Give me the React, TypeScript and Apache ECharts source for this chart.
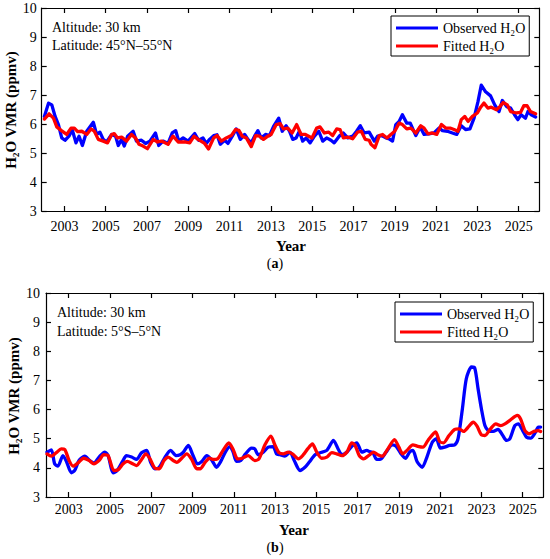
import React, { useEffect, useRef } from "react";
import * as echarts from "echarts";

const FONT = '"Liberation Serif", "Times New Roman", serif';

const yearTicks = [2003, 2005, 2007, 2009, 2011, 2013, 2015, 2017, 2019, 2021, 2023, 2025];

// Panel (a): 45°N–55°N
const aObsYears = [
  2002.03, 2002.23, 2002.39, 2002.55, 2002.71, 2002.87, 2003.03, 2003.22, 2003.38, 2003.56, 2003.71, 2003.87,
  2004.08, 2004.4, 2004.56, 2004.72, 2004.88, 2005.04, 2005.29, 2005.48, 2005.61, 2005.77, 2005.9, 2006.06,
  2006.33, 2006.49, 2006.73, 2006.93, 2007.14, 2007.41, 2007.57, 2007.78, 2008.02, 2008.22, 2008.39, 2008.54,
  2008.75, 2008.99, 2009.31, 2009.5, 2009.71, 2009.87, 2010.03, 2010.23, 2010.39, 2010.55, 2010.76, 2010.92,
  2011.13, 2011.32, 2011.52, 2011.73, 2011.89, 2012.05, 2012.21, 2012.37, 2012.53, 2012.74, 2012.93, 2013.13,
  2013.38, 2013.55, 2013.74, 2013.9, 2014.06, 2014.22, 2014.38, 2014.54, 2014.71, 2014.9, 2015.11, 2015.32,
  2015.51, 2015.7, 2015.91, 2016.07, 2016.31, 2016.51, 2016.72, 2016.96, 2017.15, 2017.33, 2017.52, 2017.76,
  2018.01, 2018.17, 2018.36, 2018.57, 2018.73, 2018.89, 2019.05, 2019.21, 2019.37, 2019.58, 2019.75, 2020.02,
  2020.23, 2020.42, 2020.66, 2020.9, 2021.15, 2021.31, 2021.55, 2021.79, 2022.0, 2022.22, 2022.43, 2022.64,
  2022.84, 2023.03, 2023.19, 2023.4, 2023.64, 2023.84, 2024.05, 2024.21, 2024.42, 2024.61, 2024.8, 2024.96,
  2025.12, 2025.33, 2025.45, 2025.61, 2025.82,
];
const aObsValues = [
  6.26, 6.72, 6.66, 6.26, 5.98, 5.52, 5.44, 5.58, 5.8, 5.35, 5.58, 5.26,
  5.75, 6.06, 5.64, 5.72, 5.47, 5.38, 5.64, 5.58, 5.26, 5.47, 5.24, 5.58,
  5.75, 5.41, 5.44, 5.33, 5.41, 5.69, 5.26, 5.41, 5.33, 5.69, 5.77, 5.41,
  5.52, 5.41, 5.67, 5.44, 5.52, 5.33, 5.47, 5.6, 5.63, 5.3, 5.44, 5.33,
  5.58, 5.83, 5.47, 5.64, 5.47, 5.35, 5.58, 5.77, 5.52, 5.64, 5.6, 5.92,
  6.2, 5.75, 5.94, 5.75, 5.47, 5.52, 5.75, 5.41, 5.52, 5.35, 5.58, 5.75,
  5.41, 5.52, 5.44, 5.35, 5.58, 5.69, 5.52, 5.58, 5.75, 5.94, 5.69, 5.72,
  5.41, 5.58, 5.6, 5.52, 5.49, 5.41, 5.98, 6.09, 6.32, 6.03, 6.03, 5.6,
  5.9, 5.64, 5.66, 5.69, 5.86, 5.77, 5.75, 5.69, 5.64, 5.94, 5.81, 5.83,
  6.2, 6.77, 7.34, 7.11, 6.97, 6.66, 6.43, 6.81, 6.6, 6.55, 6.32, 6.15,
  6.32, 6.2, 6.43, 6.32, 6.24,
];
const aFitYears = [
  2002.03, 2002.26, 2002.47, 2002.63, 2002.84, 2003.11, 2003.32, 2003.48, 2003.64, 2003.84, 2004.08, 2004.29,
  2004.45, 2004.64, 2004.88, 2005.09, 2005.29, 2005.41, 2005.57, 2005.77, 2006.01, 2006.25, 2006.44, 2006.61,
  2006.81, 2007.02, 2007.3, 2007.51, 2007.7, 2008.02, 2008.26, 2008.51, 2008.83, 2009.07, 2009.28, 2009.47,
  2009.79, 2009.98, 2010.23, 2010.39, 2010.6, 2010.84, 2011.08, 2011.29, 2011.45, 2011.61, 2011.81, 2012.05,
  2012.26, 2012.45, 2012.64, 2012.85, 2013.01, 2013.26, 2013.45, 2013.61, 2013.82, 2014.03, 2014.25, 2014.46,
  2014.67, 2014.99, 2015.22, 2015.38, 2015.59, 2015.8, 2015.99, 2016.19, 2016.35, 2016.51, 2016.72, 2016.96,
  2017.2, 2017.38, 2017.57, 2017.76, 2017.85, 2018.04, 2018.25, 2018.41, 2018.62, 2018.81, 2019.0, 2019.21,
  2019.37, 2019.58, 2019.78, 2020.02, 2020.26, 2020.42, 2020.61, 2020.82, 2021.03, 2021.26, 2021.47, 2021.68,
  2021.87, 2022.06, 2022.22, 2022.39, 2022.55, 2022.76, 2023.0, 2023.16, 2023.32, 2023.51, 2023.67, 2023.93,
  2024.09, 2024.25, 2024.45, 2024.61, 2024.9, 2025.09, 2025.25, 2025.41, 2025.57, 2025.82,
];
const aFitValues = [
  6.17, 6.35, 6.2, 5.9, 5.78, 5.64, 5.86, 5.86, 5.74, 5.75, 5.64, 5.83,
  5.75, 5.47, 5.41, 5.35, 5.64, 5.67, 5.52, 5.55, 5.41, 5.64, 5.52, 5.3,
  5.24, 5.15, 5.47, 5.38, 5.41, 5.3, 5.58, 5.38, 5.38, 5.35, 5.58, 5.47,
  5.33, 5.14, 5.52, 5.6, 5.41, 5.52, 5.6, 5.81, 5.78, 5.58, 5.52, 5.22,
  5.6, 5.58, 5.47, 5.58, 5.64, 5.98, 6.01, 5.83, 5.86, 5.69, 5.98, 5.64,
  5.64, 5.52, 5.86, 5.9, 5.69, 5.72, 5.6, 5.83, 5.81, 5.52, 5.55, 5.49,
  5.72, 5.75, 5.47, 5.44, 5.3, 5.18, 5.6, 5.64, 5.52, 5.64, 5.75, 6.03,
  5.98, 5.83, 5.86, 5.69, 5.94, 5.86, 5.66, 5.69, 5.64, 5.98, 5.86, 5.86,
  5.81, 5.75, 6.15, 6.26, 6.09, 6.26, 6.38, 6.58, 6.72, 6.55, 6.58, 6.49,
  6.6, 6.74, 6.66, 6.43, 6.38, 6.4, 6.63, 6.63, 6.43, 6.35,
];

// Panel (b): 5°S–5°N
const bObsYears = [
  2001.95, 2002.16, 2002.32, 2002.48, 2002.72, 2002.89, 2003.13, 2003.29, 2003.5, 2003.78, 2004.02, 2004.22,
  2004.47, 2004.75, 2004.91, 2005.16, 2005.35, 2005.61, 2005.8, 2006.05, 2006.29, 2006.53, 2006.78, 2006.97,
  2007.18, 2007.39, 2007.67, 2007.94, 2008.2, 2008.4, 2008.56, 2008.8, 2009.01, 2009.24, 2009.45, 2009.69,
  2009.95, 2010.16, 2010.37, 2010.59, 2010.81, 2010.97, 2011.13, 2011.34, 2011.57, 2011.86, 2012.02, 2012.18,
  2012.43, 2012.67, 2012.91, 2013.07, 2013.24, 2013.48, 2013.72, 2013.93, 2014.21, 2014.45, 2014.65, 2014.94,
  2015.18, 2015.51, 2015.83, 2016.07, 2016.24, 2016.48, 2016.72, 2016.96, 2017.21, 2017.45, 2017.57, 2017.74,
  2017.93, 2018.14, 2018.38, 2018.68, 2018.87, 2019.11, 2019.32, 2019.52, 2019.68, 2019.88, 2020.13, 2020.36,
  2020.62, 2020.82, 2021.01, 2021.22, 2021.46, 2021.71, 2021.87, 2022.08, 2022.27, 2022.52, 2022.68, 2022.84,
  2023.0, 2023.17, 2023.33, 2023.57, 2023.81, 2024.02, 2024.22, 2024.38, 2024.62, 2024.79, 2025.0, 2025.19,
  2025.39, 2025.6, 2025.76, 2025.87,
];
const bObsValues = [
  4.54, 4.62, 4.14, 4.06, 4.42, 4.22, 3.83, 3.91, 4.25, 4.4, 4.25, 4.17,
  4.37, 4.54, 4.42, 3.83, 3.91, 4.22, 4.42, 4.37, 4.29, 4.52, 4.6, 4.19,
  3.97, 4.02, 4.37, 4.6, 4.42, 4.45, 4.54, 4.77, 4.45, 4.14, 4.22, 4.42,
  4.25, 4.02, 4.22, 4.54, 4.74, 4.54, 4.22, 4.25, 4.48, 4.68, 4.65, 4.45,
  4.54, 4.71, 4.73, 4.48, 4.45, 4.4, 4.54, 4.25, 3.91, 4.02, 4.19, 4.45,
  4.52, 4.6, 4.94, 4.63, 4.45, 4.54, 4.74, 4.86, 4.54, 4.6, 4.56, 4.52,
  4.29, 4.31, 4.54, 4.79, 4.74, 4.48, 4.33, 4.54, 4.6, 4.22, 4.02, 4.37,
  4.88, 5.0, 4.68, 4.71, 4.77, 4.79, 5.0, 6.03, 7.06, 7.46, 7.42, 6.71,
  6.03, 5.45, 5.28, 5.25, 5.32, 5.13, 4.94, 5.0, 5.45, 5.51, 5.28, 5.05,
  5.02, 5.2, 5.4, 5.4,
];
const bFitYears = [
  2001.95, 2002.16, 2002.4, 2002.64, 2002.81, 2003.02, 2003.21, 2003.45, 2003.73, 2003.99, 2004.22, 2004.47,
  2004.7, 2004.91, 2005.19, 2005.4, 2005.64, 2005.84, 2006.1, 2006.29, 2006.53, 2006.74, 2006.94, 2007.18,
  2007.39, 2007.62, 2007.83, 2008.07, 2008.24, 2008.48, 2008.72, 2008.96, 2009.21, 2009.37, 2009.61, 2009.82,
  2009.99, 2010.21, 2010.48, 2010.76, 2010.97, 2011.18, 2011.41, 2011.7, 2012.02, 2012.22, 2012.51, 2012.8,
  2012.99, 2013.19, 2013.4, 2013.64, 2013.84, 2014.13, 2014.37, 2014.58, 2014.81, 2015.02, 2015.26, 2015.51,
  2015.75, 2015.99, 2016.24, 2016.48, 2016.72, 2016.88, 2017.08, 2017.29, 2017.53, 2017.77, 2017.98, 2018.19,
  2018.42, 2018.79, 2019.0, 2019.19, 2019.39, 2019.68, 2019.92, 2020.17, 2020.41, 2020.78, 2020.98, 2021.17,
  2021.43, 2021.71, 2021.92, 2022.14, 2022.4, 2022.6, 2022.79, 2023.0, 2023.17, 2023.44, 2023.7, 2023.93,
  2024.14, 2024.38, 2024.74, 2024.9, 2025.11, 2025.32, 2025.55, 2025.76, 2025.87,
];
const bFitValues = [
  4.48, 4.4, 4.52, 4.65, 4.63, 4.25, 4.06, 4.17, 4.33, 4.25, 4.14, 4.25,
  4.45, 4.42, 3.91, 3.94, 4.14, 4.22, 4.14, 4.08, 4.29, 4.48, 4.31, 3.99,
  3.97, 4.25, 4.37, 4.25, 4.19, 4.33, 4.48, 4.29, 3.97, 3.97, 4.19, 4.33,
  4.29, 4.31, 4.6, 4.86, 4.63, 4.31, 4.33, 4.42, 4.25, 4.31, 4.79, 5.09,
  4.79, 4.52, 4.48, 4.54, 4.48, 4.31, 4.45, 4.65, 4.82, 4.54, 4.33, 4.37,
  4.52, 4.48, 4.42, 4.54, 4.86, 4.77, 4.42, 4.31, 4.42, 4.54, 4.45, 4.4,
  4.6, 4.97, 4.71, 4.48, 4.6, 4.79, 4.74, 4.71, 4.94, 5.23, 4.9, 4.86,
  5.11, 5.32, 5.34, 5.25, 5.43, 5.57, 5.43, 5.13, 5.11, 5.34, 5.51, 5.45,
  5.51, 5.63, 5.8, 5.68, 5.28, 5.17, 5.25, 5.28, 5.25,
];

const zip = (xs: number[], ys: number[]) => xs.map((x, i) => [x, ys[i]]);

const OBS = "Observed H\u2082O";
const FIT = "Fitted H\u2082O";

function xAxes(gridIndex: number, margin: number) {
  const common = {
    type: "value" as const,
    gridIndex,
    min: 2001.9,
    max: 2026,
    splitLine: { show: false },
    axisLine: { show: true, onZero: false, lineStyle: { color: "#000", width: 1.2 } },
    axisTick: { show: true, inside: true, length: 5, customValues: yearTicks, lineStyle: { color: "#000", width: 1.2 } },
  };
  return [
    {
      ...common,
      position: "bottom",
      axisLabel: {
        show: true,
        customValues: yearTicks,
        formatter: (v: number) => String(Math.round(v)),
        margin,
        color: "#000",
        fontFamily: FONT,
        fontSize: 14,
      },
    },
    { ...common, position: "top", axisLabel: { show: false } },
  ];
}

function yAxes(gridIndex: number, margin: number) {
  const common = {
    type: "value" as const,
    gridIndex,
    min: 3,
    max: 10,
    interval: 1,
    splitLine: { show: false },
    axisLine: { show: true, onZero: false, lineStyle: { color: "#000", width: 1.2 } },
    axisTick: { show: true, inside: true, length: 5, lineStyle: { color: "#000", width: 1.2 } },
  };
  return [
    {
      ...common,
      position: "left",
      axisLabel: { show: true, margin, color: "#000", fontFamily: FONT, fontSize: 14 },
    },
    { ...common, position: "right", axisLabel: { show: false } },
  ];
}

function legendAt(left: number, top: number) {
  return {
    left,
    top,
    orient: "vertical",
    data: [OBS, FIT],
    icon: "rect",
    itemWidth: 42,
    itemHeight: 3,
    itemGap: 4,
    selectedMode: false,
    backgroundColor: "#fff",
    borderColor: "#000",
    borderWidth: 1,
    borderRadius: 0,
    padding: [5, 4, 3, 5],
    textStyle: { fontFamily: FONT, fontSize: 14, color: "#000", lineHeight: 14 },
  };
}

const txt = (text: string, x: number, y: number, extra: any = {}) => ({
  type: "text",
  x,
  y,
  rotation: extra.rotation || 0,
  style: {
    text,
    fill: "#000",
    fontFamily: FONT,
    fontSize: extra.fontSize || 14,
    fontWeight: extra.fontWeight || "normal",
    align: extra.align || "left",
    verticalAlign: "middle",
    ...(extra.rich ? { rich: extra.rich } : {}),
  },
});

export default function App() {
  const ref = useRef<HTMLDivElement>(null);
  useEffect(() => {
    if (!ref.current) return;
    const chart = echarts.init(ref.current, null, { renderer: "svg" });
    const lineSeries = (name: string, color: string, data: number[][], axis: number, smooth: number) => ({
      type: "line",
      name,
      data,
      xAxisIndex: axis,
      yAxisIndex: axis,
      showSymbol: false,
      symbol: "none",
      smooth,
      lineStyle: { color, width: 3.3, join: "round", cap: "round" },
      itemStyle: { color },
      emphasis: { disabled: true },
    });
    const capRich = {
      r: { fontFamily: FONT, fontSize: 14, fontWeight: "normal", fill: "#000" },
      b: { fontFamily: FONT, fontSize: 14, fontWeight: "bold", fill: "#000" },
    };
    chart.setOption({
      animation: false,
      backgroundColor: "#fff",
      grid: [
        { left: 41.7, top: 8, width: 497.6, height: 203 },
        { left: 46, top: 293, width: 497.3, height: 204 },
      ],
      xAxis: [...xAxes(0, 8), ...xAxes(1, 5)],
      yAxis: [...yAxes(0, 5), ...yAxes(1, 6)],
      legend: [legendAt(391, 16), legendAt(395, 302)],
      series: [
        lineSeries(OBS, "#0000ff", zip(aObsYears, aObsValues), 0, 0),
        lineSeries(FIT, "#ff0000", zip(aFitYears, aFitValues), 0, 0),
        lineSeries(OBS, "#0000ff", zip(bObsYears, bObsValues), 2, 0.25),
        lineSeries(FIT, "#ff0000", zip(bFitYears, bFitValues), 2, 0.25),
      ],
      graphic: [
        txt("Altitude: 30 km", 52, 27),
        txt("Latitude: 45\u00b0N\u201355\u00b0N", 52, 45),
        txt("Altitude: 30 km", 57, 312),
        txt("Latitude: 5\u00b0S\u20135\u00b0N", 57, 331),
        txt("H\u2082O VMR (ppmv)", 10.5, 110, { rotation: Math.PI / 2, align: "center", fontWeight: "bold", fontSize: 15 }),
        txt("H\u2082O VMR (ppmv)", 14, 396, { rotation: Math.PI / 2, align: "center", fontWeight: "bold", fontSize: 15 }),
        txt("Year", 291, 246, { align: "center", fontWeight: "bold", fontSize: 15 }),
        txt("Year", 294, 530, { align: "center", fontWeight: "bold", fontSize: 15 }),
        txt("{r|(}{b|a}{r|)}", 275, 263, { align: "center", rich: capRich }),
        txt("{r|(}{b|b}{r|)}", 275, 547, { align: "center", rich: capRich }),
      ],
    });
    return () => chart.dispose();
  }, []);
  return (
    <div
      ref={ref}
      style={{ position: "absolute", left: 0, top: 0, width: 550, height: 559, background: "#fff" }}
    />
  );
}
